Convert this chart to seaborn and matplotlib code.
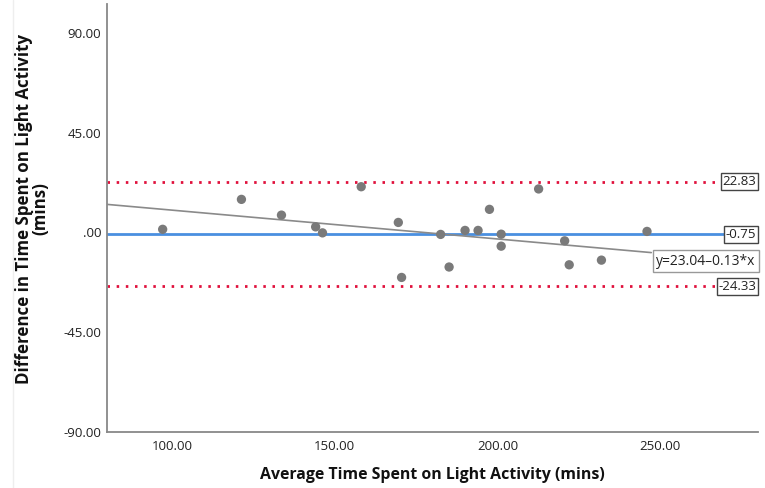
import matplotlib
matplotlib.use("Agg")
import matplotlib.pyplot as plt
import seaborn as sns
import pandas as pd
from matplotlib.lines import Line2D

avg_time = [97.1, 121.3, 133.6, 144.1, 146.2, 158.1, 169.5, 170.5, 182.5, 185.1,
            190.0, 194.0, 197.5, 201.1, 201.1, 212.6, 220.6, 222.0, 231.9, 245.9]
diff_time = [1.4, 14.9, 7.8, 2.5, -0.2, 20.6, 4.5, -20.3, -0.9, -15.6,
             0.9, 0.9, 10.4, -0.8, -6.2, 19.6, -3.8, -14.6, -12.5, 0.45]
mean_diff = -0.75
upper_loa = 22.83
lower_loa = -24.33
fit_intercept = 23.04
fit_slope = -0.13
y_ticks = [-90, -45, 0, 45, 90]
y_tick_labels = ["-90.00", "-45.00", ".00", "45.00", "90.00"]
x_ticks = [100, 150, 200, 250]
x_tick_labels = ["100.00", "150.00", "200.00", "250.00"]

df = pd.DataFrame({"avg": avg_time, "diff": diff_time})

sns.set_theme(style="white")
plt.rcParams['font.family'] = ['Open Sans', 'DejaVu Sans']

fig = plt.figure(figsize=(7.65, 4.88), dpi=100)
ax = fig.add_axes([107/765, 1-432/488, (758-107)/765, (432-4)/488])

xmin, xmax = 80, 280
ax.set_xlim(xmin, xmax)
ax.set_ylim(-90, 103)

# limits of agreement
ax.axhline(upper_loa, xmin=0, xmax=(730-107)/651, color="#e0103c", lw=2.0,
           linestyle=(0, (0.9, 2.4)), zorder=2)
ax.axhline(lower_loa, xmin=0, xmax=(722-107)/651, color="#e0103c", lw=2.0,
           linestyle=(0, (0.9, 2.4)), zorder=2)
ax.axhline(mean_diff, xmin=0, xmax=(730-107)/651, color="#4a8fe0", lw=2.0, zorder=2)

# regression line
x_end = 247.2
ax.plot([xmin, x_end], [fit_intercept + fit_slope*xmin, fit_intercept + fit_slope*x_end],
        color="#8a8a8a", lw=1.2, zorder=3)

sns.scatterplot(data=df, x="avg", y="diff", ax=ax, color="#7a7a7a", s=45,
                edgecolor="none", zorder=4)

box = dict(boxstyle="square,pad=0.15", fc="white", ec="#444444", lw=1.0)
ax.text(279.5, upper_loa, f"{upper_loa:.2f}", ha="right", va="center", fontsize=9.5,
        color="#222222", bbox=box, zorder=5)
ax.text(279.5, mean_diff, f"{mean_diff:.2f}", ha="right", va="center", fontsize=9.5,
        color="#222222", bbox=box, zorder=5)
ax.text(279.5, lower_loa, f"{lower_loa:.2f}", ha="right", va="center", fontsize=9.5,
        color="#222222", bbox=box, zorder=5)
box2 = dict(boxstyle="square,pad=0.25", fc="white", ec="#999999", lw=1.0)
ax.text(279.3, -13.0, f"y={fit_intercept:.2f}{fit_slope:.2f}*x".replace("-", "–"),
        ha="right", va="center", fontsize=10, color="#222222", bbox=box2, zorder=5)

ax.set_yticks(y_ticks)
ax.set_yticklabels(y_tick_labels)
ax.set_xticks(x_ticks)
ax.set_xticklabels(x_tick_labels)
ax.tick_params(axis="both", length=0, labelsize=9.5, labelcolor="#222222")
ax.tick_params(axis="y", pad=4)
ax.tick_params(axis="x", pad=6)

for s in ["top", "right"]:
    ax.spines[s].set_visible(False)
for s in ["left", "bottom"]:
    ax.spines[s].set_color("#888888")
    ax.spines[s].set_linewidth(1.3)

ax.set_xlabel("Average Time Spent on Light Activity (mins)", fontsize=11.4,
              fontweight="bold", color="#111111", labelpad=10)
ax.set_ylabel("")
fig.text(0.042, 1 - 208.5/488, "Difference in Time Spent on Light Activity\n(mins)",
         rotation=90, ha="center", va="center", fontsize=12.2, fontweight="bold",
         color="#111111", linespacing=0.9)

fig.add_artist(Line2D([13/765, 13/765], [0, 1], color="#eeeeee", lw=1))

fig.savefig("out.png", dpi=100)
